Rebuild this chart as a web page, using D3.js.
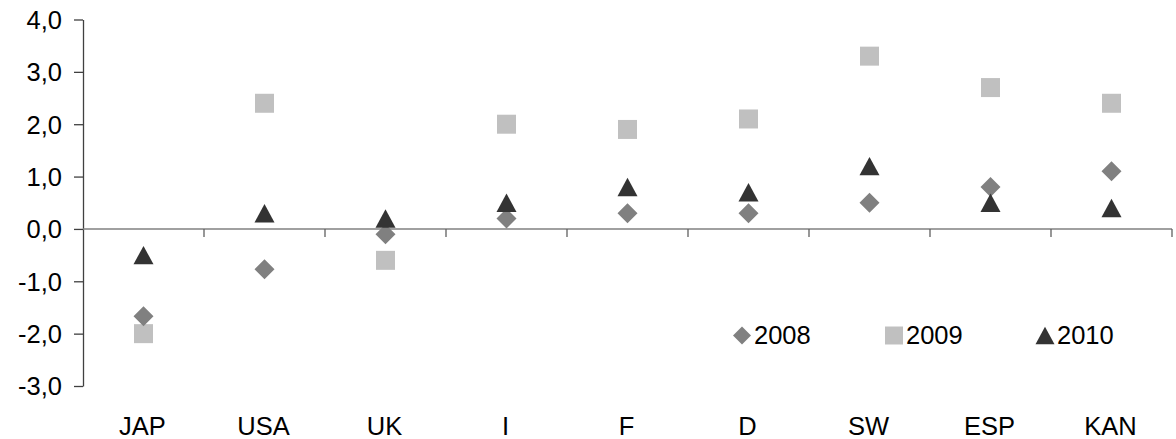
<!DOCTYPE html>
<html>
<head>
<meta charset="utf-8">
<script src="https://cdn.jsdelivr.net/npm/d3@7"></script>
<style>
  html, body { margin: 0; padding: 0; background: #fff; }
  svg { display: block; font-family: "Liberation Sans", Arial, sans-serif; }
</style>
</head>
<body>
<svg id="chart" width="1176" height="439"></svg>
<script>
const categories = ["JAP", "USA", "UK", "I", "F", "D", "SW", "ESP", "KAN"];
const values2008 = [-1.67, -0.77, -0.1, 0.2, 0.3, 0.3, 0.5, 0.8, 1.1];
const values2009 = [-2.0, 2.4, -0.6, 2.0, 1.9, 2.1, 3.3, 2.7, 2.4];
const values2010 = [-0.5, 0.3, 0.2, 0.5, 0.8, 0.7, 1.2, 0.5, 0.4];
const yTicks = [-3, -2, -1, 0, 1, 2, 3, 4];
const seriesNames = ["2008", "2009", "2010"];

(function () {
const svg = d3.select("#chart");
const plotLeft = 83, plotRight = 1172, plotTop = 19.5, plotBottom = 386;
const FS = 25.5;

const x = d3.scaleBand().domain(categories).range([plotLeft, plotRight]).padding(0);
const y = d3.scaleLinear().domain([-3, 4]).range([plotBottom, plotTop]);

const fmt = v => d3.format(".1f")(v).replace(".", ",").replace("−", "-");

// Y axis
const yAxis = d3.axisLeft(y).tickValues(yTicks).tickSize(9).tickSizeOuter(0).tickPadding(12).tickFormat(fmt);
const gy = svg.append("g").attr("transform", `translate(${plotLeft},0)`).call(yAxis);
gy.select(".domain").attr("stroke", "#404040").attr("stroke-width", 1.3);
gy.selectAll(".tick line").attr("stroke", "#404040").attr("stroke-width", 1.3);
gy.selectAll(".tick text").attr("font-size", FS).attr("fill", "#000")
  .attr("font-family", "'Liberation Sans', Arial, sans-serif").attr("dy", "0.35em");

// X axis along zero
const y0 = y(0);
const gx = svg.append("g");
gx.append("line").attr("x1", plotLeft).attr("x2", plotRight).attr("y1", y0).attr("y2", y0)
  .attr("stroke", "#808080").attr("stroke-width", 1.5);
gx.selectAll("line.xt").data(categories).enter().append("line").attr("class", "xt")
  .attr("x1", d => x(d) + x.bandwidth()).attr("x2", d => x(d) + x.bandwidth())
  .attr("y1", y0).attr("y2", y0 + 8).attr("stroke", "#606060").attr("stroke-width", 1.3);

// Category labels at bottom
svg.append("g").selectAll("text").data(categories).enter().append("text")
  .attr("x", d => x(d) + x.bandwidth() / 2 - 1)
  .attr("y", 435)
  .attr("text-anchor", "middle")
  .attr("font-size", FS)
  .attr("fill", "#000")
  .text(d => d);

// Marker shapes
function diamond(s) { const h = s / 2; return `M0,${-h}L${h},0L0,${h}L${-h},0Z`; }
function square(s) { const h = s / 2; return `M${-h},${-h}H${h}V${h}H${-h}Z`; }
function triangle(s) { const w = s / 2, h = s * 0.46; return `M0,${-h}L${w},${h}L${-w},${h}Z`; }

const series = [
  { name: seriesNames[0], values: values2008, shape: diamond, size: 20, color: "#808080", lsize: 18 },
  { name: seriesNames[1], values: values2009, shape: square, size: 19, color: "#c0c0c0", lsize: 18 },
  { name: seriesNames[2], values: values2010, shape: triangle, size: 20, color: "#333333", lsize: 19 }
];

const cx = d => x(d) + x.bandwidth() / 2;

[series[1], series[0], series[2]].forEach(s => {
  svg.append("g").selectAll("path").data(categories).enter().append("path")
    .attr("d", s.shape(s.size))
    .attr("transform", (d, i) => `translate(${cx(d)},${y(s.values[i])})`)
    .attr("fill", s.color);
});

// Legend
const legendY = 335.5;
const legendX = [742, 894, 1045];
series.forEach((s, i) => {
  const g = svg.append("g").attr("transform", `translate(${legendX[i]},${legendY})`);
  g.append("path").attr("d", s.shape(s.lsize)).attr("fill", s.color);
  g.append("text").attr("x", 12).attr("y", 0).attr("dy", "0.35em")
    .attr("font-size", FS).attr("fill", "#000").text(s.name);
});
})();
</script>
</body>
</html>
